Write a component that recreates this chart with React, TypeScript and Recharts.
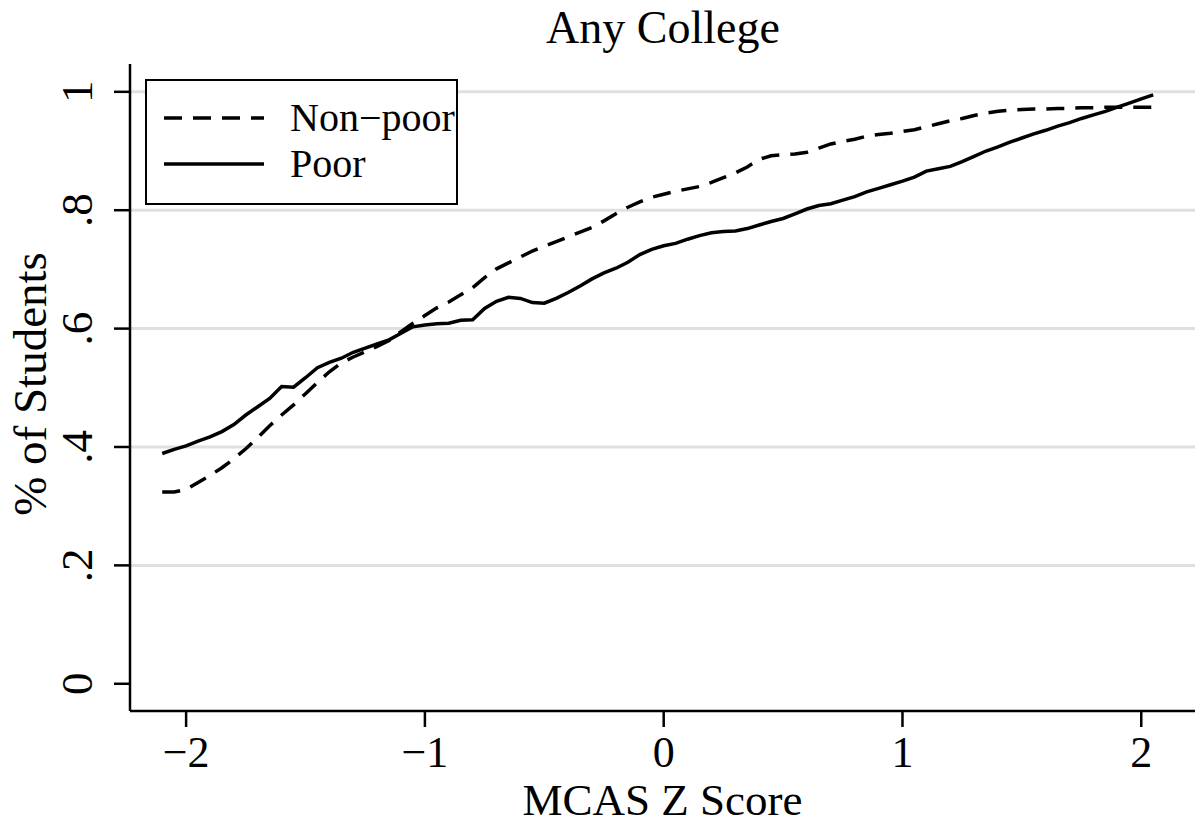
import React from "react";
import { LineChart, Line, XAxis, YAxis, CartesianGrid, Legend, Label } from "recharts";

const zScores = [
  -2.1, -2.05, -2.0, -1.95, -1.9, -1.85, -1.8, -1.75, -1.7, -1.65, -1.6, -1.55,
  -1.5, -1.45, -1.4, -1.35, -1.3, -1.25, -1.2, -1.15, -1.1, -1.05, -1.0, -0.95,
  -0.9, -0.85, -0.8, -0.75, -0.7, -0.65, -0.6, -0.55, -0.5, -0.45, -0.4, -0.35,
  -0.3, -0.25, -0.2, -0.15, -0.1, -0.05, 0.0, 0.05, 0.1, 0.15, 0.2, 0.25,
  0.3, 0.35, 0.4, 0.45, 0.5, 0.55, 0.6, 0.65, 0.7, 0.75, 0.8, 0.85,
  0.9, 0.95, 1.0, 1.05, 1.1, 1.15, 1.2, 1.25, 1.3, 1.35, 1.4, 1.45,
  1.5, 1.55, 1.6, 1.65, 1.7, 1.75, 1.8, 1.85, 1.9, 1.95, 2.0, 2.05,
];

const poorRates = [
  0.389, 0.396, 0.402, 0.41, 0.417, 0.426, 0.438, 0.454, 0.468, 0.482, 0.502, 0.501,
  0.517, 0.534, 0.543, 0.55, 0.56, 0.567, 0.574, 0.581, 0.592, 0.603, 0.606, 0.608,
  0.609, 0.614, 0.615, 0.634, 0.646, 0.653, 0.651, 0.644, 0.643, 0.651, 0.661, 0.672,
  0.684, 0.694, 0.702, 0.712, 0.725, 0.734, 0.74, 0.744, 0.751, 0.757, 0.762, 0.764,
  0.765, 0.769, 0.775, 0.781, 0.786, 0.794, 0.802, 0.808, 0.811, 0.817, 0.823, 0.831,
  0.837, 0.843, 0.849, 0.856, 0.866, 0.87, 0.874, 0.882, 0.891, 0.9, 0.907, 0.915,
  0.922, 0.929, 0.935, 0.942, 0.948, 0.955, 0.961, 0.967, 0.974, 0.981, 0.988, 0.995,
];

const nonPoorRates = [
  0.324, 0.324, 0.328, 0.34, 0.352, 0.365, 0.38, 0.397, 0.416, 0.436, 0.454, 0.471,
  0.49, 0.509, 0.527, 0.542, 0.552, 0.561, 0.57, 0.58, 0.595, 0.609, 0.622, 0.635,
  0.645, 0.657, 0.669, 0.686, 0.701, 0.711, 0.721, 0.731, 0.739, 0.747, 0.755, 0.763,
  0.771, 0.782, 0.794, 0.805, 0.814, 0.822, 0.827, 0.832, 0.836, 0.84, 0.847, 0.855,
  0.863, 0.873, 0.886, 0.892, 0.894, 0.895, 0.898, 0.905, 0.912, 0.916, 0.92, 0.925,
  0.928, 0.93, 0.933, 0.936, 0.941, 0.946, 0.951, 0.955, 0.96, 0.964, 0.967, 0.969,
  0.97, 0.971, 0.971, 0.972, 0.972, 0.973, 0.973, 0.974, 0.974, 0.974, 0.974, 0.974,
];

const xTicks = [-2, -1, 0, 1, 2];
const yTicks = [0, 0.2, 0.4, 0.6, 0.8, 1];
const gridValues = [0.2, 0.4, 0.6, 0.8, 1];

const series = [
  { key: "nonPoor", name: "Non\u2212poor", dash: "18 11" },
  { key: "poor", name: "Poor", dash: undefined },
];

const FONT = "'Liberation Serif', 'Times New Roman', serif";

const data = zScores.map((z, i) => ({
  z,
  poor: poorRates[i],
  nonPoor: nonPoorRates[i],
}));

// stata-style labels: unicode minus, no leading zero
const fmtX = (v: number) => (v < 0 ? `\u2212${Math.abs(v)}` : `${v}`);
const fmtY = (v: number) => `${v}`.replace(/^0\./, ".");

const XTick = ({ x, y, payload }: any) => (
  <text x={x} y={y + 40} textAnchor="middle" fontFamily={FONT} fontSize={44} fill="#000">
    {fmtX(payload.value)}
  </text>
);

const YTick = ({ x, y, payload }: any) => (
  <text
    x={x - 22}
    y={y}
    transform={`rotate(-90 ${x - 22} ${y})`}
    textAnchor="middle"
    fontFamily={FONT}
    fontSize={45}
    fill="#000"
  >
    {fmtY(payload.value)}
  </text>
);

const LegendBox = () => (
  <svg width={313} height={126}>
    <rect x={1} y={1} width={311} height={124} fill="#fff" stroke="#000" strokeWidth={2} />
    {series.map((s, i) => (
      <g key={s.key}>
        <line
          x1={19}
          x2={119}
          y1={39 + i * 46}
          y2={39 + i * 46}
          stroke="#000"
          strokeWidth={3.5}
          strokeDasharray={s.dash}
        />
        <text x={145} y={52 + i * 46} fontFamily={FONT} fontSize={40} fill="#000">
          {s.name}
        </text>
      </g>
    ))}
  </svg>
);

export default function App() {
  return (
    <div style={{ position: "absolute", left: 0, top: 0, width: 1199, height: 825, background: "#fff" }}>
      <div
        style={{
          position: "absolute",
          left: 0,
          top: 5,
          width: 1326,
          textAlign: "center",
          fontFamily: FONT,
          fontSize: 46,
          lineHeight: "46px",
          color: "#000",
        }}
      >
        Any College
      </div>
      <LineChart width={1199} height={825} data={data} margin={{ top: 64, right: 4, bottom: 0, left: 0 }}>
        <CartesianGrid vertical={false} horizontalValues={gridValues} stroke="#e0e0e0" strokeWidth={3} />
        <XAxis
          dataKey="z"
          type="number"
          domain={[-2.235, 2.225]}
          ticks={xTicks}
          height={114}
          tickSize={16}
          tickMargin={0}
          tick={<XTick />}
          axisLine={{ stroke: "#000", strokeWidth: 2.5 }}
          tickLine={{ stroke: "#000", strokeWidth: 2.5 }}
        >
          <Label
            content={() => (
              <text x={662.5} y={815} textAnchor="middle" fontFamily={FONT} fontSize={45} fill="#000">
                MCAS Z Score
              </text>
            )}
          />
        </XAxis>
        <YAxis
          type="number"
          domain={[-0.046, 1.047]}
          ticks={yTicks}
          width={130}
          tickSize={16}
          tickMargin={0}
          tick={<YTick />}
          axisLine={{ stroke: "#000", strokeWidth: 2.5 }}
          tickLine={{ stroke: "#000", strokeWidth: 2.5 }}
        >
          <Label
            content={() => (
              <text
                x={46}
                y={384}
                transform="rotate(-90 46 384)"
                textAnchor="middle"
                fontFamily={FONT}
                fontSize={47}
                fill="#000"
              >
                % of Students
              </text>
            )}
          />
        </YAxis>
        <Legend
          layout="vertical"
          align="center"
          verticalAlign="middle"
          wrapperStyle={{ left: 145, top: 79, width: 313, height: 126 }}
          content={() => <LegendBox />}
        />
        {series.map((s) => (
          <Line
            key={s.key}
            type="linear"
            dataKey={s.key}
            name={s.name}
            stroke="#000"
            strokeWidth={3.5}
            strokeDasharray={s.dash}
            dot={false}
            activeDot={false}
            isAnimationActive={false}
          />
        ))}
      </LineChart>
    </div>
  );
}
